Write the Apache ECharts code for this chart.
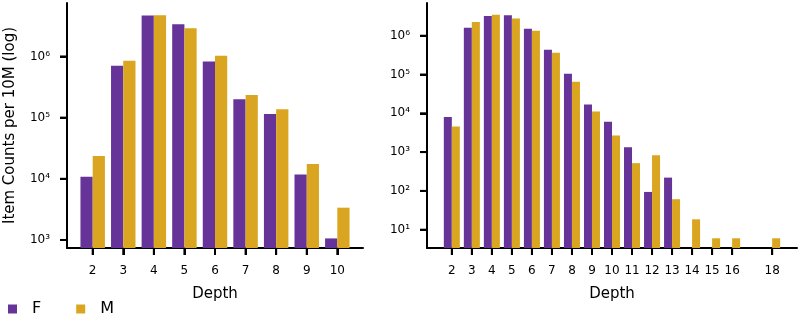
<!DOCTYPE html>
<html>
<head>
<meta charset="utf-8">
<script src="https://cdn.jsdelivr.net/npm/echarts@6/dist/echarts.min.js"></script>
<style>
  html, body { margin: 0; padding: 0; background: #fff; }
  #chart { width: 800px; height: 317px; }
</style>
</head>
<body>
<div id="chart"></div>
<script>
// left panel
var depthsL = [2, 3, 4, 5, 6, 7, 8, 9, 10];
var femaleL = [10800, 705000, 4690000, 3350000, 830000, 200000, 115000, 11800, 1060];
var maleL = [23600, 850000, 4700000, 2880000, 1030000, 234000, 137000, 17500, 3370];

// right panel
var depthsR = [2, 3, 4, 5, 6, 7, 8, 9, 10, 11, 12, 13, 14, 15, 16, 18];
var femaleR = [7980, 1610000, 3240000, 3350000, 1520000, 437000, 105000, 16900, 6040, 1340, 94, 220, null, null, null, null];
var maleR = [4560, 2260000, 3500000, 2800000, 1350000, 365000, 65000, 11100, 2670, 518, 834, 61, 18.5, 6, 6, 6];

var tickLabelsL = [2, 3, 4, 5, 6, 7, 8, 9, 10];
var tickLabelsR = [2, 3, 4, 5, 6, 7, 8, 9, 10, 11, 12, 13, 14, 15, 16, 18];
var yTicksL = [1e3, 1e4, 1e5, 1e6];
var yTicksR = [1e1, 1e2, 1e3, 1e4, 1e5, 1e6];

// axis ranges (x: data +-5% margin, y: log range)
var xRangeL = [1.16, 10.84];
var xRangeR = [0.76, 19.24];
var yRangeL = [739, 7.48e6];
var yRangeR = [3.37, 6.98e6];

var purple = '#663399';
var gold = '#DAA520';
var font = 'DejaVu Sans';
var sup = ['⁰', '¹', '²', '³', '⁴', '⁵', '⁶', '⁷', '⁸', '⁹'];

function pairs(xs, ys) {
  var out = [];
  for (var i = 0; i < xs.length; i++) {
    if (ys[i] != null) out.push([xs[i], ys[i]]);
  }
  return out;
}

function powLabel(v) {
  var e = Math.round(Math.log10(v));
  return '10' + sup[e];
}

function xAxisCfg(idx, range, ticks) {
  return {
    type: 'value',
    gridIndex: idx,
    min: range[0],
    max: range[1],
    name: 'Depth',
    nameLocation: 'middle',
    nameGap: 39,
    nameTextStyle: { fontFamily: font, fontSize: 15, color: '#000' },
    axisLine: { onZero: false, lineStyle: { color: '#000', width: 2 } },
    axisTick: { show: true, length: 7, lineStyle: { color: '#000', width: 2 }, customValues: ticks.slice() },
    axisLabel: { fontFamily: font, fontSize: 12, color: '#000', margin: 17, customValues: ticks },
    splitLine: { show: false }
  };
}

function yAxisCfg(idx, range, ticks, withName) {
  var a = {
    type: 'log',
    gridIndex: idx,
    min: range[0],
    max: range[1],
    axisLine: { show: true, lineStyle: { color: '#000', width: 2 } },
    axisTick: { show: true, length: 7, lineStyle: { color: '#000', width: 2 }, customValues: ticks.slice() },
    axisLabel: { fontFamily: font, fontSize: 12, color: '#000', margin: 17, customValues: ticks, formatter: powLabel },
    splitLine: { show: false }
  };
  if (withName) {
    a.name = 'Item Counts per 10M (log)';
    a.nameLocation = 'middle';
    a.nameGap = 49;
    a.nameTextStyle = { fontFamily: font, fontSize: 15, color: '#000' };
  }
  return a;
}

function barSeries(name, xi, data, color) {
  return {
    name: name,
    type: 'bar',
    xAxisIndex: xi,
    yAxisIndex: xi,
    data: data,
    barWidth: '40%',
    barGap: '0%',
    itemStyle: { color: color }
  };
}

var chart = echarts.init(document.getElementById('chart'), null, { renderer: 'canvas' });
chart.setOption({
  animation: false,
  textStyle: { fontFamily: font },
  grid: [
    { left: 67, top: 3, width: 296, height: 245, outerBoundsMode: 'none' },
    { left: 427, top: 3, width: 370, height: 245, outerBoundsMode: 'none' }
  ],
  legend: {
    left: 3,
    top: 296,
    icon: 'rect',
    itemWidth: 9,
    itemHeight: 9,
    itemGap: 35,
    textStyle: { fontFamily: font, fontSize: 16, color: '#000', padding: [0, 0, 0, 10] },
    data: ['F', 'M']
  },
  xAxis: [
    xAxisCfg(0, xRangeL, tickLabelsL),
    xAxisCfg(1, xRangeR, tickLabelsR)
  ],
  yAxis: [
    yAxisCfg(0, yRangeL, yTicksL, true),
    yAxisCfg(1, yRangeR, yTicksR, false)
  ],
  series: [
    barSeries('F', 0, pairs(depthsL, femaleL), purple),
    barSeries('M', 0, pairs(depthsL, maleL), gold),
    barSeries('F', 1, pairs(depthsR, femaleR), purple),
    barSeries('M', 1, pairs(depthsR, maleR), gold)
  ]
});

// tick marks: positions come from the axes' own scales (convertToPixel)
var tickEls = [];
function addXTicks(gi, ticks, yMin) {
  ticks.forEach(function (t) {
    var p = chart.convertToPixel({ gridIndex: gi }, [t, yMin]);
    tickEls.push({
      type: 'line', silent: true, zlevel: 10, z: 100,
      shape: { x1: p[0], y1: p[1], x2: p[0], y2: p[1] + 7 },
      style: { stroke: '#000', lineWidth: 2 }
    });
  });
}
function addYTicks(gi, ticks, xMin) {
  ticks.forEach(function (t) {
    var p = chart.convertToPixel({ gridIndex: gi }, [xMin, t]);
    tickEls.push({
      type: 'line', silent: true, zlevel: 10, z: 100,
      shape: { x1: p[0] - 7, y1: p[1], x2: p[0], y2: p[1] },
      style: { stroke: '#000', lineWidth: 2 }
    });
  });
}
addXTicks(0, tickLabelsL, yRangeL[0]);
addXTicks(1, tickLabelsR, yRangeR[0]);
addYTicks(0, yTicksL, xRangeL[0]);
addYTicks(1, yTicksR, xRangeR[0]);
chart.setOption({ graphic: tickEls });
</script>
</body>
</html>
